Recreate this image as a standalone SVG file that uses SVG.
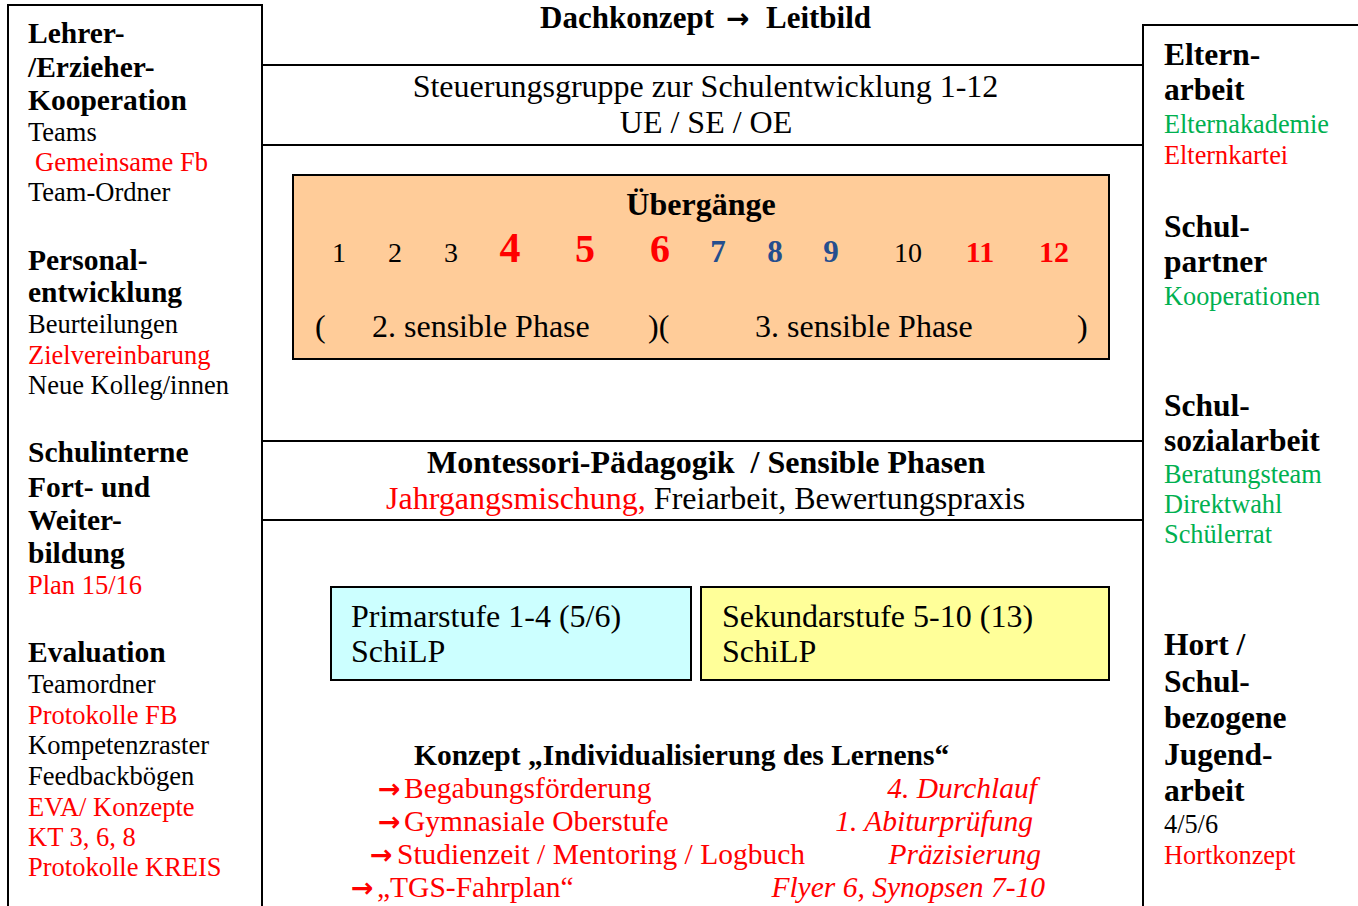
<svg xmlns="http://www.w3.org/2000/svg" width="1358" height="906" viewBox="0 0 1358 906">
<style>
text{font-family:"Liberation Serif","Times New Roman",serif;fill:#000}
.b{font-weight:bold}
.i{font-style:italic}
.r{fill:#FF0000}
.g{fill:#00B050}
.bl{fill:#254E8E}
.ln{stroke:#000;stroke-width:2;fill:none}
.arw{font-family:"DejaVu Sans",sans-serif;font-weight:bold}
.L{font-size:26.5px}
.LB{font-size:29.5px;font-weight:bold}
.R{font-size:26.3px}
.RB{font-size:31.5px;font-weight:bold}
.C{font-size:32px}
.K{font-size:29.5px}
</style>
<rect width="1358" height="906" fill="#fff"/>

<g id="frame">
  <path class="ln" d="M8,910 V5 H262 V910"/>
  <path class="ln" d="M1360,25 H1143 V910"/>
</g>

<g id="connectors">
  <line class="ln" x1="262" y1="65" x2="1143" y2="65"/>
  <line class="ln" x1="262" y1="145" x2="1143" y2="145"/>
  <line class="ln" x1="262" y1="441" x2="1143" y2="441"/>
  <line class="ln" x1="262" y1="520" x2="1143" y2="520"/>
</g>

<g id="title">
  <text class="b" font-size="31" y="28"><tspan x="540">Dachkonzept</tspan><tspan class="arw" x="726" font-size="28">→</tspan><tspan x="766">Leitbild</tspan></text>
</g>

<g id="left-column">
  <text class="LB" x="28" y="43">Lehrer-</text>
  <text class="LB" x="28" y="77">/Erzieher-</text>
  <text class="LB" x="28" y="110">Kooperation</text>
  <text class="L" x="28" y="141">Teams</text>
  <text class="L r" x="35" y="171">Gemeinsame Fb</text>
  <text class="L" x="28" y="201">Team-Ordner</text>

  <text class="LB" x="28" y="270">Personal-</text>
  <text class="LB" x="28" y="302">entwicklung</text>
  <text class="L" x="28" y="333">Beurteilungen</text>
  <text class="L r" x="28" y="364">Zielvereinbarung</text>
  <text class="L" x="28" y="394">Neue Kolleg/innen</text>

  <text class="LB" x="28" y="462">Schulinterne</text>
  <text class="LB" x="28" y="497">Fort- und</text>
  <text class="LB" x="28" y="530">Weiter-</text>
  <text class="LB" x="28" y="563">bildung</text>
  <text class="L r" x="28" y="594">Plan 15/16</text>

  <text class="LB" x="28" y="662">Evaluation</text>
  <text class="L" x="28" y="693">Teamordner</text>
  <text class="L r" x="28" y="724">Protokolle FB</text>
  <text class="L" x="28" y="754">Kompetenzraster</text>
  <text class="L" x="28" y="785">Feedbackbögen</text>
  <text class="L r" x="28" y="816">EVA/ Konzepte</text>
  <text class="L r" x="28" y="846">KT 3, 6, 8</text>
  <text class="L r" x="28" y="876">Protokolle KREIS</text>
</g>

<g id="right-column">
  <text class="RB" x="1164" y="65">Eltern-</text>
  <text class="RB" x="1164" y="100">arbeit</text>
  <text class="R g" x="1164" y="133">Elternakademie</text>
  <text class="R r" x="1164" y="164">Elternkartei</text>

  <text class="RB" x="1164" y="237">Schul-</text>
  <text class="RB" x="1164" y="272">partner</text>
  <text class="R g" x="1164" y="305">Kooperationen</text>

  <text class="RB" x="1164" y="416">Schul-</text>
  <text class="RB" x="1164" y="451">sozialarbeit</text>
  <text class="R g" x="1164" y="483">Beratungsteam</text>
  <text class="R g" x="1164" y="513">Direktwahl</text>
  <text class="R g" x="1164" y="543">Schülerrat</text>

  <text class="RB" x="1164" y="655">Hort /</text>
  <text class="RB" x="1164" y="692">Schul-</text>
  <text class="RB" x="1164" y="728">bezogene</text>
  <text class="RB" x="1164" y="765">Jugend-</text>
  <text class="RB" x="1164" y="801">arbeit</text>
  <text class="R" x="1164" y="833">4/5/6</text>
  <text class="R r" x="1164" y="864">Hortkonzept</text>
</g>

<g id="steuerungsgruppe">
  <text class="C" x="705.5" y="97" text-anchor="middle">Steuerungsgruppe zur Schulentwicklung 1-12</text>
  <text class="C" x="706" y="133" text-anchor="middle">UE / SE / OE</text>
</g>

<g id="uebergaenge">
  <rect x="293" y="175" width="816" height="184" fill="#FFCC99" stroke="#000" stroke-width="2"/>
  <text class="b" font-size="32" x="701" y="215" text-anchor="middle">Übergänge</text>
  <text y="262" text-anchor="middle">
    <tspan x="341" font-size="28">1</tspan>
    <tspan x="397" font-size="28">2</tspan>
    <tspan x="453" font-size="28">3</tspan>
    <tspan x="512" class="b r" font-size="42">4</tspan>
    <tspan x="587" class="b r" font-size="40">5</tspan>
    <tspan x="662" class="b r" font-size="40">6</tspan>
    <tspan x="720" class="b bl" font-size="31">7</tspan>
    <tspan x="777" class="b bl" font-size="31">8</tspan>
    <tspan x="833" class="b bl" font-size="31">9</tspan>
    <tspan x="910" font-size="28">10</tspan>
    <tspan x="982" class="b r" font-size="30">11</tspan>
    <tspan x="1054" class="b r" font-size="30">12</tspan>
  </text>
  <text class="C" y="337"><tspan x="315">(</tspan><tspan x="372">2. sensible Phase</tspan><tspan x="648">)(</tspan><tspan x="755">3. sensible Phase</tspan><tspan x="1077">)</tspan></text>
</g>

<g id="montessori">
  <text class="C b" x="427" y="473" xml:space="preserve">Montessori-Pädagogik  / Sensible Phasen</text>
  <text class="C" x="386" y="509"><tspan class="r">Jahrgangsmischung,</tspan> Freiarbeit, Bewertungspraxis</text>
</g>

<g id="primarstufe">
  <rect x="331" y="587" width="360" height="93" fill="#CCFFFF" stroke="#000" stroke-width="2"/>
  <text class="C" x="351" y="627">Primarstufe 1-4 (5/6)</text>
  <text class="C" x="351" y="662">SchiLP</text>
</g>

<g id="sekundarstufe">
  <rect x="701" y="587" width="408" height="93" fill="#FFFF99" stroke="#000" stroke-width="2"/>
  <text class="C" x="722" y="627">Sekundarstufe 5-10 (13)</text>
  <text class="C" x="722" y="662">SchiLP</text>
</g>

<g id="konzept">
  <text class="K b" x="414" y="765">Konzept „Individualisierung des Lernens“</text>
  <text class="K r" y="798"><tspan class="arw" x="378" font-size="27" style="fill:#FF0000">→</tspan><tspan x="404">Begabungsförderung</tspan></text>
  <text class="K r" y="831"><tspan class="arw" x="378" font-size="27" style="fill:#FF0000">→</tspan><tspan x="404">Gymnasiale Oberstufe</tspan></text>
  <text class="K r" y="864"><tspan class="arw" x="370" font-size="27" style="fill:#FF0000">→</tspan><tspan x="397">Studienzeit / Mentoring / Logbuch</tspan></text>
  <text class="K r" y="897"><tspan class="arw" x="351" font-size="27" style="fill:#FF0000">→</tspan><tspan x="377">„TGS-Fahrplan“</tspan></text>
  <text class="K r i" x="1037" y="798" text-anchor="end">4. Durchlauf</text>
  <text class="K r i" x="1033" y="831" text-anchor="end">1. Abiturprüfung</text>
  <text class="K r i" x="1041" y="864" text-anchor="end">Präzisierung</text>
  <text class="K r i" x="1045" y="897" text-anchor="end">Flyer 6, Synopsen 7-10</text>
</g>
</svg>
